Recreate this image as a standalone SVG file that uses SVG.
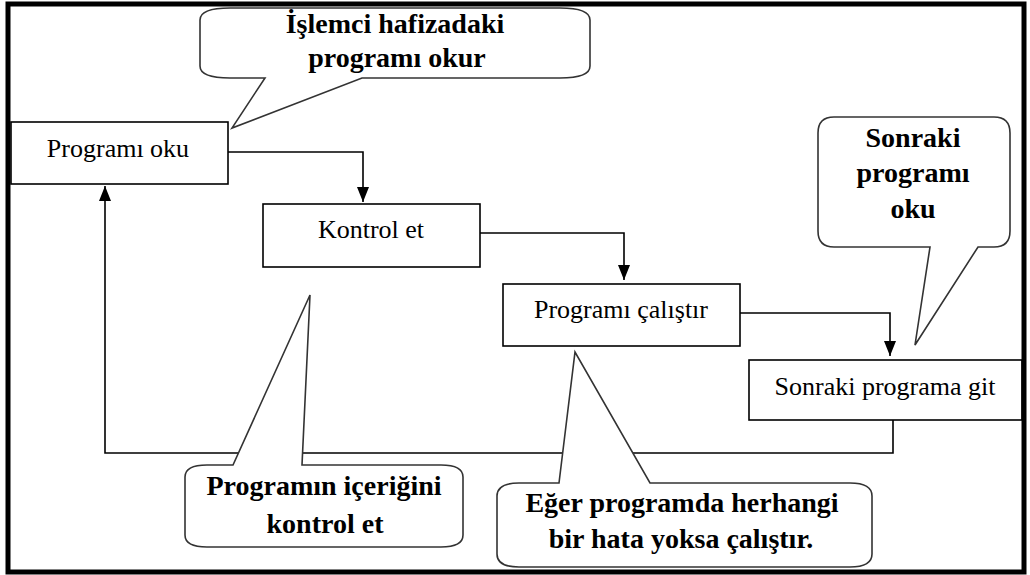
<svg xmlns="http://www.w3.org/2000/svg" width="1030" height="575" viewBox="0 0 1030 575">
<style>
.box{fill:#fff;stroke:#000;stroke-width:1.6}
.lbl{font-family:"Liberation Serif","Times New Roman",serif;font-size:26px;fill:#000;text-anchor:middle}
.conn{fill:none;stroke:#000;stroke-width:1.6}
.call{fill:#fff;stroke:#333;stroke-width:1.6;stroke-linejoin:miter}
.ctext{font-family:"Liberation Serif","Times New Roman",serif;font-size:28px;font-weight:bold;fill:#000;text-anchor:middle}
</style>
<defs>
<marker id="arr" viewBox="0 0 15 12" refX="15" refY="6" markerWidth="15" markerHeight="12" markerUnits="userSpaceOnUse" orient="auto">
<path d="M0,0 L15,6 L0,12 z" fill="#000"/>
</marker>
</defs>
<rect x="0" y="0" width="1030" height="575" fill="#fff"/>

<g id="connectors">
<path class="conn" d="M228,152 H363 V202" marker-end="url(#arr)"/>
<path class="conn" d="M480,233 H624 V280" marker-end="url(#arr)"/>
<path class="conn" d="M740,313 H890 V356" marker-end="url(#arr)"/>
<path class="conn" d="M893,420 V453 H105 V186" marker-end="url(#arr)"/>
</g>

<g id="node-programi-oku">
<rect class="box" x="11" y="122" width="217" height="62"/>
<text class="lbl" x="118" y="157">Programı oku</text>
</g>
<g id="node-kontrol-et">
<rect class="box" x="263" y="204" width="217" height="63"/>
<text class="lbl" x="371" y="238">Kontrol et</text>
</g>
<g id="node-programi-calistir">
<rect class="box" x="503" y="284" width="237" height="62"/>
<text class="lbl" x="621" y="318">Programı çalıştır</text>
</g>
<g id="node-sonraki-programa-git">
<rect class="box" x="749" y="360" width="273" height="60"/>
<text class="lbl" x="885" y="395">Sonraki programa git</text>
</g>

<g id="callout-islemci">
<path class="call" d="M230,8 H560 Q590,8 590,20 V66 Q590,78 560,78 H362 L232,128 L265,78 H230 Q200,78 200,66 V20 Q200,8 230,8 Z"/>
<text class="ctext" x="395" y="33">İşlemci hafizadaki</text>
<text class="ctext" x="397" y="67">programı okur</text>
</g>
<g id="callout-sonraki">
<path class="call" d="M834,117 H994 Q1010,117 1010,133 V231 Q1010,247 994,247 H978 L915,345 L930,247 H834 Q818,247 818,231 V133 Q818,117 834,117 Z"/>
<text class="ctext" x="913" y="147">Sonraki</text>
<text class="ctext" x="913" y="182">programı</text>
<text class="ctext" x="913" y="218">oku</text>
</g>
<g id="callout-programin">
<path class="call" d="M207,465 H233 L310,295 L302,465 H441 Q463,465 463,477 V535 Q463,547 441,547 H207 Q185,547 185,535 V477 Q185,465 207,465 Z"/>
<text class="ctext" x="324" y="495">Programın içeriğini</text>
<text class="ctext" x="325" y="533">kontrol et</text>
</g>
<g id="callout-eger">
<path class="call" d="M519,483 H559 L575,352 L650,483 H850 Q872,483 872,496 V554 Q872,567 850,567 H519 Q497,567 497,554 V496 Q497,483 519,483 Z"/>
<text class="ctext" x="682" y="512">Eğer programda herhangi</text>
<text class="ctext" x="681" y="548">bir hata yoksa çalıştır.</text>
</g>

<rect id="frame" x="8" y="4" width="1016" height="568" fill="none" stroke="#000" stroke-width="5"/>
</svg>
